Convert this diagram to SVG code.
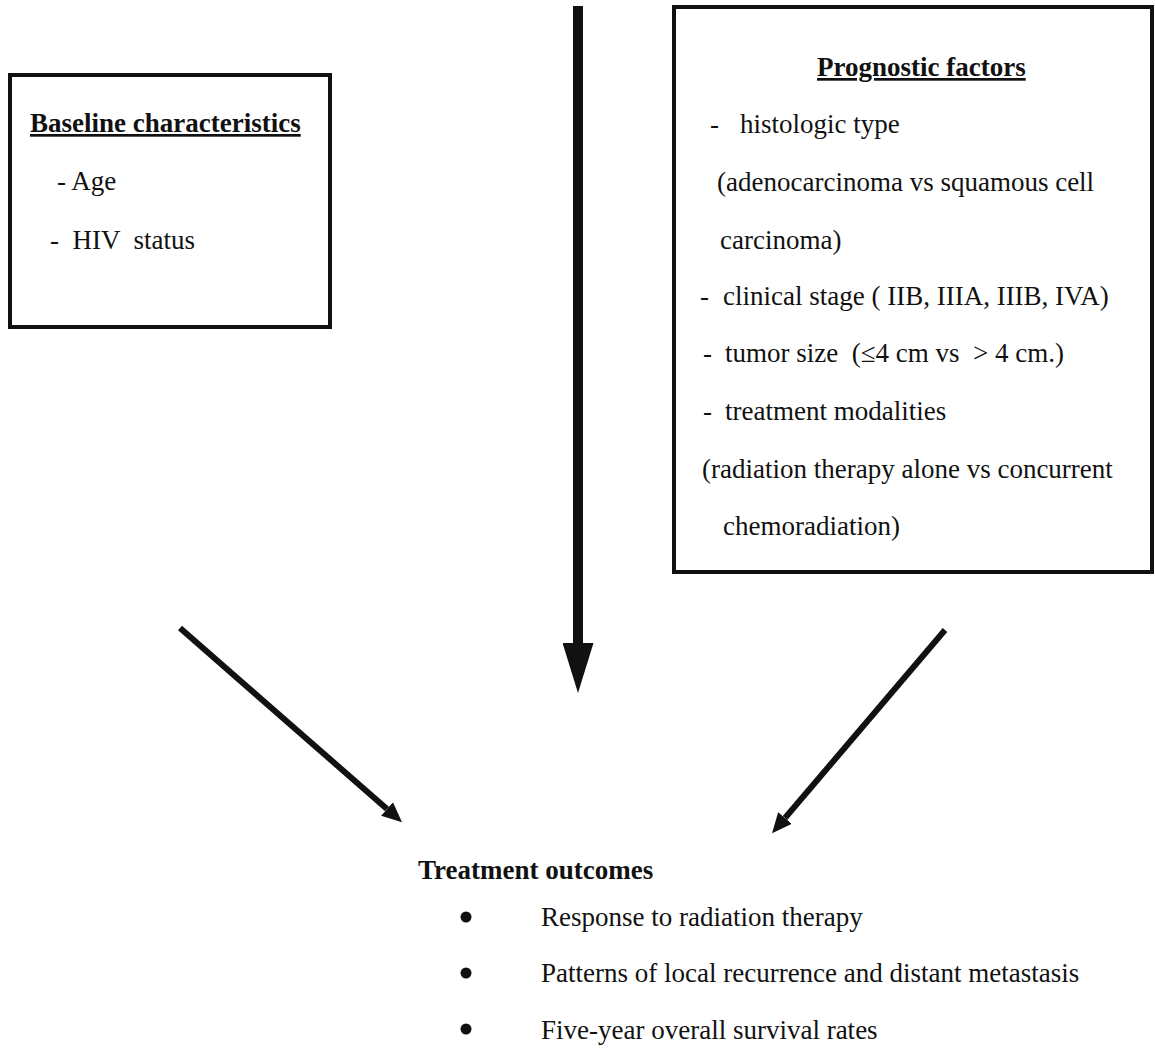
<svg xmlns="http://www.w3.org/2000/svg" width="1155" height="1063" viewBox="0 0 1155 1063">
<style>
  text { font-family: "Liberation Serif", "Times New Roman", serif; font-size: 27px; fill: #111; }
  .b { font-weight: bold; }
  .u { text-decoration: underline; }
  .box { fill: none; stroke: #111; stroke-width: 4; }
  .conn { stroke: #111; fill: none; }
</style>
<defs>
  <marker id="head" markerUnits="userSpaceOnUse" markerWidth="20" markerHeight="18" viewBox="0 0 20 18" refX="0" refY="9" orient="auto">
    <path d="M0,0 L20,9 L0,18 z" fill="#111"/>
  </marker>
  <marker id="bighead" markerUnits="userSpaceOnUse" markerWidth="50" markerHeight="31" viewBox="0 0 50 31" refX="0" refY="15.5" orient="auto">
    <path d="M0,0 L50,15.5 L0,31 z" fill="#111"/>
  </marker>
</defs>
<rect width="1155" height="1063" fill="#fff"/>

<g id="connectors">
  <line class="conn" x1="578" y1="6" x2="578" y2="643" stroke-width="10" marker-end="url(#bighead)"/>
  <line class="conn" x1="180" y1="628" x2="387" y2="809" stroke-width="6" marker-end="url(#head)"/>
  <line class="conn" x1="945" y1="630" x2="785" y2="818" stroke-width="6" marker-end="url(#head)"/>
</g>

<g id="baseline">
  <rect class="box" x="10" y="75" width="320" height="252"/>
  <text class="b u" x="30" y="132">Baseline characteristics</text>
  <text x="57" y="190" xml:space="preserve">- Age</text>
  <text x="50" y="249" xml:space="preserve">-  HIV  status</text>
</g>

<g id="prognostic">
  <rect class="box" x="674" y="7" width="478" height="565"/>
  <text class="b u" x="817" y="76">Prognostic factors</text>
  <text x="710" y="133">-<tspan x="740">histologic type</tspan></text>
  <text x="717" y="191">(adenocarcinoma vs squamous cell</text>
  <text x="720" y="249">carcinoma)</text>
  <text x="700" y="305" xml:space="preserve">-<tspan x="723">clinical stage ( IIB, IIIA, IIIB, IVA)</tspan></text>
  <text x="703" y="362" xml:space="preserve">-<tspan x="725">tumor size  (≤4 cm vs  &gt; 4 cm.)</tspan></text>
  <text x="703" y="420">-<tspan x="725">treatment modalities</tspan></text>
  <text x="702" y="478">(radiation therapy alone vs concurrent</text>
  <text x="723" y="535">chemoradiation)</text>
</g>

<g id="outcomes">
  <text class="b" x="418" y="879">Treatment outcomes</text>
  <circle cx="466" cy="917" r="5.5" fill="#111"/>
  <text x="541" y="926">Response to radiation therapy</text>
  <circle cx="466" cy="973" r="5.5" fill="#111"/>
  <text x="541" y="982">Patterns of local recurrence and distant metastasis</text>
  <circle cx="466" cy="1029" r="5.5" fill="#111"/>
  <text x="541" y="1039">Five-year overall survival rates</text>
</g>
</svg>
